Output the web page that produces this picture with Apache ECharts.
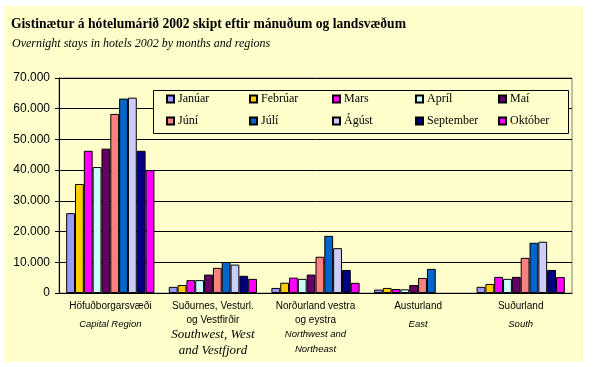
<!DOCTYPE html>
<html>
<head>
<meta charset="utf-8">
<script src="https://cdn.jsdelivr.net/npm/echarts@6/dist/echarts.min.js"></script>
<style>
html,body{margin:0;padding:0;background:#fff;}
#wrap{position:relative;width:593px;height:367px;}
#bg{position:absolute;left:4px;top:6px;width:579px;height:356px;background:#FFFFCC;}
#chart{position:absolute;left:0;top:0;width:593px;height:367px;}
</style>
</head>
<body>
<div id="wrap"><div id="bg"></div><div id="chart"></div></div>
<script>
const titleText = 'Gistinætur á hótelumárið 2002 skipt eftir mánuðum og landsvæðum';
const subtitleText = 'Overnight stays in hotels 2002 by months and regions';
const regionsIs = ['Höfuðborgarsvæði', 'Suðurnes, Vesturl.\nog Vestfirðir', 'Norðurland vestra\nog eystra', 'Austurland', 'Suðurland'];
const regionsEn = ['Capital Region', 'Southwest, West\nand Vestfjord', 'Northwest and\nNortheast', 'East', 'South'];
const months = ['Janúar', 'Febrúar', 'Mars', 'Apríl', 'Maí', 'Júní', 'Júlí', 'Ágúst', 'September', 'Október'];
const jan = [26000, 2000, 1650, 1100, 2000];
const feb = [35500, 2600, 3350, 1650, 2950];
const mar = [46300, 4200, 5000, 1300, 5250];
const apr = [41000, 4200, 4600, 1200, 4600];
const mai = [47000, 6000, 6000, 2600, 5250];
const jun = [58300, 8200, 11800, 4900, 11450];
const jul = [63300, 10100, 18600, 7850, 16350];
const agu = [63600, 9250, 14600, null, 16700];
const sep = [46300, 5600, 7500, null, 7500];
const okt = [40000, 4600, 3300, null, 5200];
const yTicks = [0, 10000, 20000, 30000, 40000, 50000, 60000, 70000];

const seriesData = [jan, feb, mar, apr, mai, jun, jul, agu, sep, okt];
const colors = ['#9999FF', '#FFCC00', '#FF00FF', '#CCFFFF', '#660066', '#FF8080', '#0066CC', '#CCCCFF', '#000080', '#FF00FF'];

const chart = echarts.init(document.getElementById('chart'), null, {renderer: 'canvas'});

const legends = months.map((m, i) => ({
  data: [m],
  left: 166 + (i % 5) * 83,
  top: (i < 5 ? 100 : 122) - 7,
  padding: 0,
  itemWidth: 7,
  itemHeight: 7,
  itemGap: 0,
  z: 100,
  textStyle: {fontFamily: 'Liberation Serif', fontSize: 12, color: '#000', padding: [0, 0, 0, -1]},
  icon: 'rect'
}));

function fmtLabel(v, idx) {
  const is = regionsIs[idx].split('\n').map(s => '{a|' + s + '}').join('\n');
  const enStyle = idx === 1 ? 'c' : (idx === 2 ? 'd' : 'b');
  const en = regionsEn[idx].split('\n').map(s => '{' + enStyle + '|' + s + '}').join('\n');
  return is + '\n' + en;
}

const option = {
  animation: false,
  backgroundColor: 'transparent',
  color: colors,
  title: [
    {text: titleText, left: 11, top: 17, padding: 0,
     textStyle: {fontFamily: 'Liberation Serif', fontWeight: 'bold', fontSize: 13.6, color: '#000'}},
    {text: subtitleText, left: 12, top: 38, padding: 0,
     textStyle: {fontFamily: 'Liberation Serif', fontStyle: 'italic', fontWeight: 'normal', fontSize: 12, color: '#000'}}
  ],
  graphic: [{
    type: 'rect', z: 50, silent: true,
    shape: {x: 153.5, y: 90.5, width: 415, height: 43},
    style: {fill: '#FFFFCC', stroke: '#000', lineWidth: 1}
  }],
  legend: legends,
  grid: {left: 59, right: 21, top: 78, bottom: 74, show: true, borderColor: '#808080', borderWidth: 1, backgroundColor: 'transparent'},
  xAxis: {
    type: 'category',
    data: regionsIs,
    axisLine: {lineStyle: {color: '#000'}},
    axisTick: {show: false},
    axisLabel: {
      interval: 0,
      margin: 6,
      formatter: fmtLabel,
      rich: {
        a: {fontFamily: 'Liberation Sans', fontSize: 10, color: '#000', lineHeight: 14},
        b: {fontFamily: 'Liberation Sans', fontStyle: 'italic', fontSize: 9.5, color: '#000', lineHeight: 22},
        c: {fontFamily: 'Liberation Serif', fontStyle: 'italic', fontSize: 13, color: '#000', lineHeight: 16},
        d: {fontFamily: 'Liberation Sans', fontStyle: 'italic', fontSize: 9.5, color: '#000', lineHeight: 15}
      }
    }
  },
  yAxis: {
    type: 'value',
    min: 0, max: 70000, interval: 10000,
    axisLine: {show: true, lineStyle: {color: '#000'}},
    axisTick: {show: true, length: 4, lineStyle: {color: '#000'}},
    splitLine: {show: true, lineStyle: {color: '#000', width: 1}},
    axisLabel: {
      margin: 9,
      fontFamily: 'Liberation Sans', fontSize: 12, color: '#000',
      formatter: v => yTicks.includes(v) ? (v === 0 ? '0' : (v / 1000) + '.000') : ''
    }
  },
  series: months.map((m, i) => ({
    name: m,
    type: 'bar',
    data: seriesData[i],
    barGap: '0%',
    barCategoryGap: '14%',
    itemStyle: {color: colors[i], borderColor: '#000', borderWidth: 1}
  }))
};
chart.setOption(option);
</script>
</body>
</html>
